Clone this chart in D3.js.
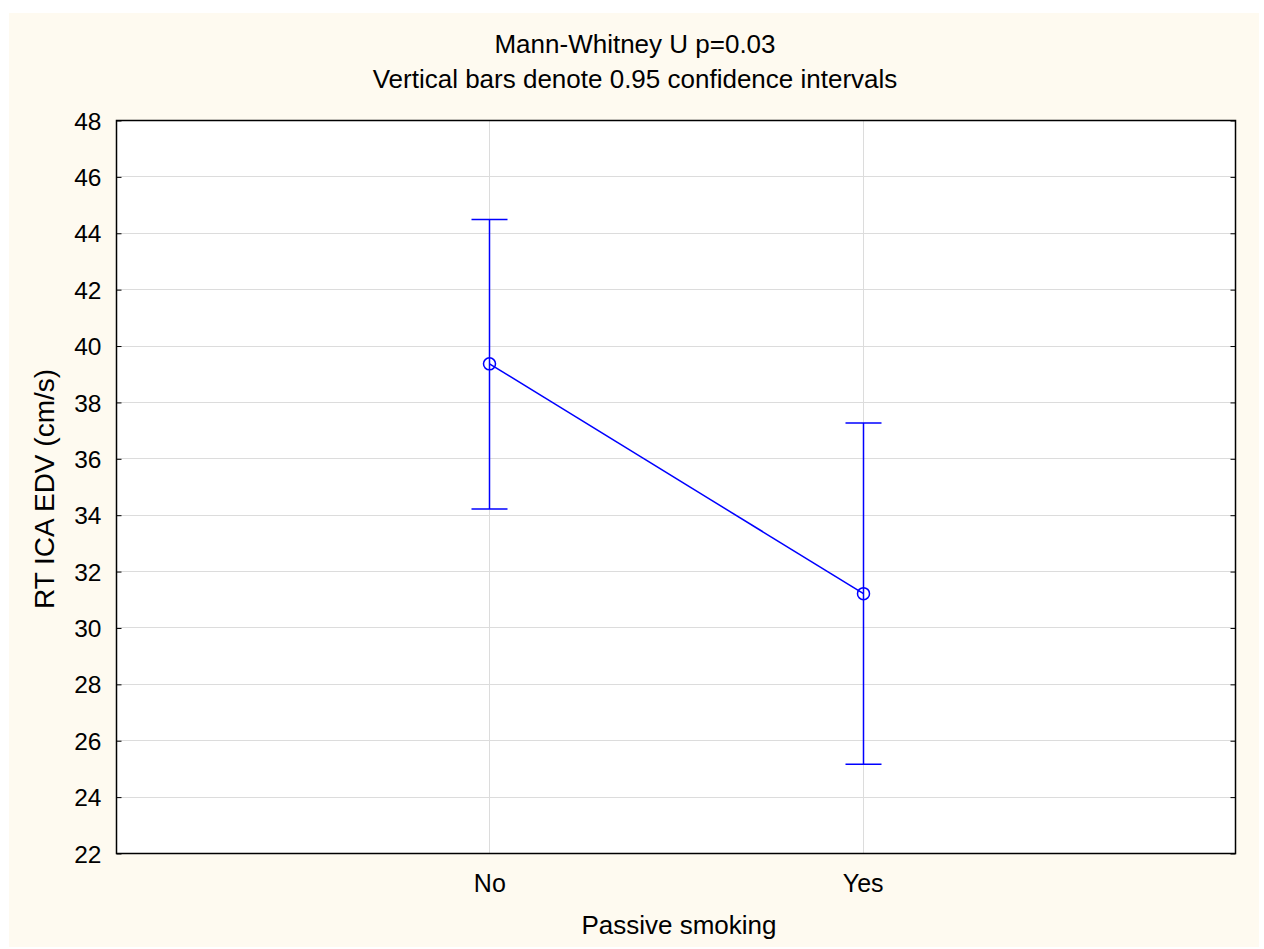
<!DOCTYPE html>
<html>
<head>
<meta charset="utf-8">
<script src="https://cdn.jsdelivr.net/npm/d3@7"></script>
<style>
  body { margin: 0; background: #fff; }
  svg text { font-family: "Liberation Sans", Arial, sans-serif; fill: #000; }
</style>
</head>
<body>
<svg id="chart" width="1264" height="949"></svg>
<script>
// data
const groups = ["No", "Yes"];
const means = [39.35, 31.2];
const lower = [34.2, 25.15];
const upper = [44.47, 37.25];
const yTicks = [22, 24, 26, 28, 30, 32, 34, 36, 38, 40, 42, 44, 46, 48];
const titleLines = ["Mann-Whitney U p=0.03", "Vertical bars denote 0.95 confidence intervals"];

const svg = d3.select("#chart");
const plotL = 116, plotR = 1236, plotT = 120, plotB = 853;

// cream page background
svg.append("rect").attr("x", 9).attr("y", 13).attr("width", 1250).attr("height", 934)
  .attr("fill", "#fefaf0");
svg.append("rect").attr("x", plotL).attr("y", plotT).attr("width", plotR - plotL).attr("height", plotB - plotT)
  .attr("fill", "#fff");

const x = d3.scalePoint().domain(groups).range([plotL, plotR]).padding(1);
const y = d3.scaleLinear().domain([22, 48]).range([plotB, plotT]);

// grid
const grid = svg.append("g").attr("stroke", "#dcdcdc").attr("stroke-width", 1);
grid.selectAll("line.h").data(yTicks.slice(1, -1)).join("line").attr("class", "h")
  .attr("x1", plotL).attr("x2", plotR)
  .attr("y1", d => Math.round(y(d)) + 0.5).attr("y2", d => Math.round(y(d)) + 0.5);
grid.selectAll("line.v").data(groups).join("line").attr("class", "v")
  .attr("y1", plotT).attr("y2", plotB)
  .attr("x1", d => Math.round(x(d)) + 0.5).attr("x2", d => Math.round(x(d)) + 0.5);

// axes (ticks inward on left and right)
const yAxisL = d3.axisLeft(y).tickValues(yTicks).tickSize(-5).tickPadding(15).tickSizeOuter(0);
const yAxisR = d3.axisRight(y).tickValues(yTicks).tickSize(-5).tickFormat("").tickSizeOuter(0);
const gl = svg.append("g").attr("transform", `translate(${plotL + 0.5},0.5)`).call(yAxisL);
const gr = svg.append("g").attr("transform", `translate(${plotR - 0.5},0.5)`).call(yAxisR);
[gl, gr].forEach(g => {
  g.select(".domain").remove();
  g.selectAll("line").attr("stroke", "#000");
});
gl.selectAll("text").attr("font-size", 24.5).attr("dy", "0.35em");

const xAxis = d3.axisBottom(x).tickSize(0).tickPadding(0);
const gx = svg.append("g").attr("transform", `translate(0,${plotB})`).call(xAxis);
gx.select(".domain").remove();
gx.selectAll("text").attr("font-size", 25).attr("dy", null).attr("y", 892 - plotB);

// frame
svg.append("rect").attr("x", plotL + 0.5).attr("y", plotT + 0.5)
  .attr("width", plotR - plotL - 1).attr("height", plotB - plotT)
  .attr("fill", "none").attr("stroke", "#000").attr("stroke-width", 1.5);

// error bars
const blue = "#0000ff";
const eb = svg.append("g").attr("stroke", blue).attr("stroke-width", 1.5).attr("fill", "none");
groups.forEach((g, i) => {
  const cx = Math.round(x(g)) + 0.5;
  eb.append("line").attr("x1", cx).attr("x2", cx).attr("y1", y(upper[i])).attr("y2", y(lower[i]));
  eb.append("line").attr("x1", cx - 18).attr("x2", cx + 18).attr("y1", y(upper[i])).attr("y2", y(upper[i]));
  eb.append("line").attr("x1", cx - 18).attr("x2", cx + 18).attr("y1", y(lower[i])).attr("y2", y(lower[i]));
});

// mean line and markers
const line = d3.line().x((d, i) => Math.round(x(groups[i])) + 0.5).y(d => y(d));
eb.append("path").datum(means).attr("d", line);
eb.selectAll("circle").data(means).join("circle")
  .attr("cx", (d, i) => Math.round(x(groups[i])) + 0.5).attr("cy", d => y(d)).attr("r", 6)
  .attr("fill", "none");

// titles
svg.selectAll("text.title").data(titleLines).join("text").attr("class", "title")
  .attr("x", 635).attr("y", (d, i) => 53 + i * 35)
  .attr("text-anchor", "middle").attr("font-size", 26).text(d => d);

svg.append("text").attr("x", 679).attr("y", 934).attr("text-anchor", "middle")
  .attr("font-size", 26).text("Passive smoking");

svg.append("text").attr("transform", "translate(54,489) rotate(-90)")
  .attr("text-anchor", "middle").attr("font-size", 28).text("RT ICA EDV (cm/s)");
</script>
</body>
</html>
